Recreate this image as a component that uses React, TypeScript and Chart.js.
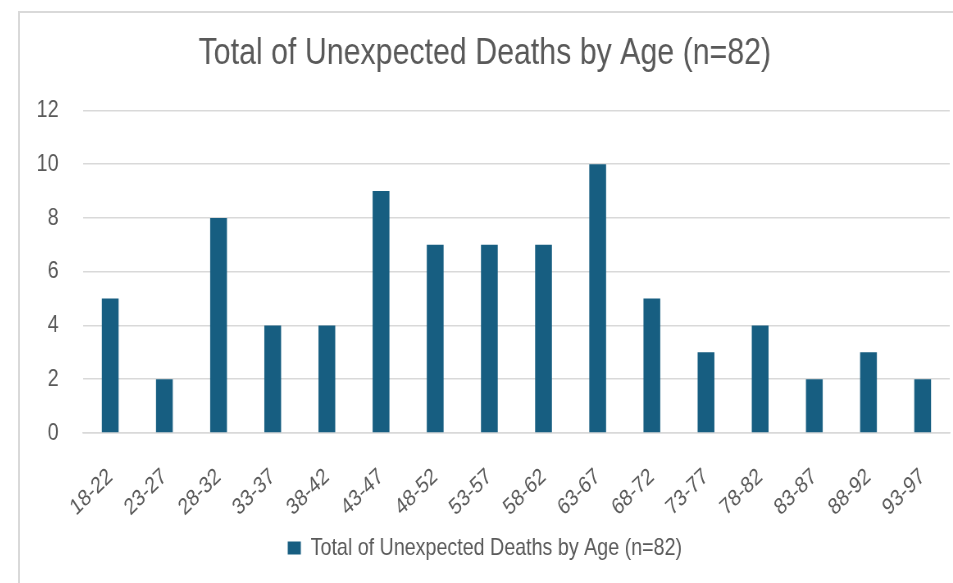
import React, { useEffect, useRef } from "react";
import { Chart, registerables } from "chart.js";

Chart.register(...registerables);

const categories = ["18-22", "23-27", "28-32", "33-37", "38-42", "43-47", "48-52", "53-57", "58-62", "63-67", "68-72", "73-77", "78-82", "83-87", "88-92", "93-97"];
const deaths = [5, 2, 8, 4, 4, 9, 7, 7, 7, 10, 5, 3, 4, 2, 3, 2];
const yTicks = [0, 2, 4, 6, 8, 10, 12];
const seriesLabel = "Total of Unexpected Deaths by Age (n=82)";
const titleText = "Total of Unexpected Deaths by Age (n=82)";

// No narrow font is installed, so the canvas is drawn wider and squeezed horizontally.
const SQUEEZE = 0.82;
const CSS_W = 933;
const CSS_H = 570;
const BUF_W = Math.round(CSS_W / SQUEEZE);
// rotation in buffer space that appears as 45 degrees after the squeeze
const LABEL_ROT = (Math.atan(SQUEEZE) * 180) / Math.PI;

const FONT = "'Liberation Sans Narrow', 'Arial Narrow', 'Liberation Sans', Arial, sans-serif";
const GRAY = "#595959";
const BAR = "#175E81";

export default function App() {
  const ref = useRef<HTMLCanvasElement | null>(null);
  useEffect(() => {
    if (!ref.current) return;
    const chart = new Chart(ref.current, {
      type: "bar",
      data: {
        labels: categories,
        datasets: [
          {
            label: seriesLabel,
            data: deaths,
            backgroundColor: BAR,
            borderWidth: 0,
            barPercentage: 0.31,
            categoryPercentage: 1,
          },
        ],
      },
      options: {
        responsive: false,
        animation: false,
        devicePixelRatio: 1,
        layout: { padding: { left: 0, right: Math.round(3 / SQUEEZE), top: 0, bottom: 13 } },
        plugins: {
          tooltip: { enabled: false },
          title: {
            display: true,
            text: titleText,
            color: GRAY,
            font: { family: FONT, size: 37, weight: "normal" },
            padding: { top: 19, bottom: 34 },
          },
          legend: {
            display: true,
            position: "bottom",
            labels: {
              color: GRAY,
              font: { family: FONT, size: 24 },
              boxWidth: Math.round(13 / SQUEEZE),
              boxHeight: 13,
              padding: 10,
            },
          },
        },
        scales: {
          x: {
            afterFit: (scale: any) => {
              scale.height = 93;
              scale.paddingLeft = 0;
              scale.paddingRight = 0;
            },
            grid: { display: false, drawTicks: false },
            border: { display: true, color: "#d9d9d9", width: 1.5 },
            ticks: {
              color: GRAY,
              font: { family: FONT, size: 23 },
              maxRotation: LABEL_ROT,
              minRotation: LABEL_ROT,
              autoSkip: false,
              padding: 30,
            },
          },
          y: {
            min: 0,
            max: 12,
            afterBuildTicks: (scale: any) => {
              scale.ticks = yTicks.map((v) => ({ value: v }));
            },
            afterFit: (scale: any) => {
              scale.width = Math.round(63 / SQUEEZE);
            },
            grid: { color: "#d9d9d9", lineWidth: 1.5, drawTicks: false },
            border: { display: false },
            ticks: {
              color: GRAY,
              font: { family: FONT, size: 24 },
              padding: Math.round(25 / SQUEEZE),
            },
          },
        },
      },
    });
    return () => chart.destroy();
  }, []);
  return (
    <div style={{ position: "fixed", left: 0, top: 0, width: 953, height: 583, overflow: "hidden", background: "#fff" }}>
      <div
        style={{
          position: "absolute",
          left: 18,
          top: 11,
          width: 960,
          height: 600,
          borderLeft: "2px solid #d9d9d9",
          borderTop: "2px solid #d9d9d9",
          background: "#fff",
        }}
      >
        <canvas
          ref={ref}
          width={BUF_W}
          height={CSS_H}
          style={{ display: "block", width: CSS_W + "px", height: CSS_H + "px" }}
        />
      </div>
    </div>
  );
}
